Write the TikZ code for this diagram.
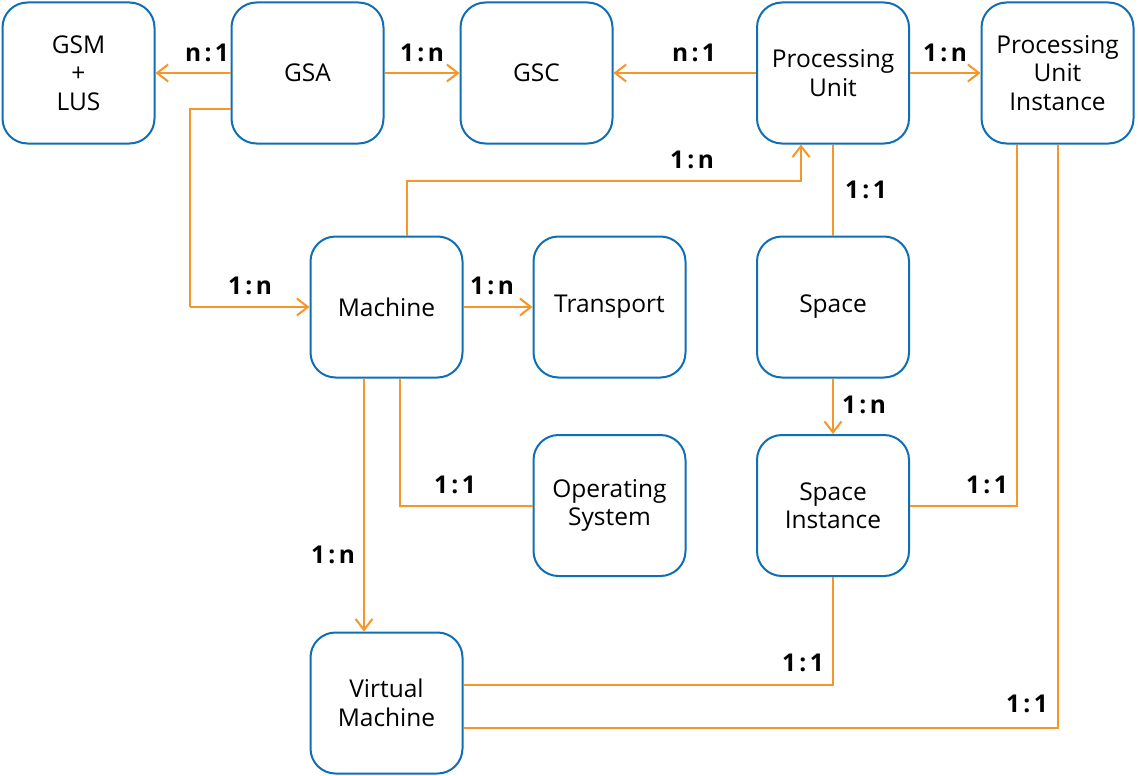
\documentclass[tikz,border=0pt]{standalone}
\usepackage{fontspec}
\setmainfont{Open Sans}
\usetikzlibrary{arrows.meta,calc}
\definecolor{boxblue}{RGB}{16,110,180}
\definecolor{linkorange}{RGB}{247,150,40}
\newcommand{\rel}[2]{#1\hspace{0.14em}:\hspace{0.14em}#2}
\begin{document}
\begin{tikzpicture}[x=1pt,y=-1pt,
  box/.style={draw=boxblue, line width=2pt, rounded corners=25pt, minimum width=152pt, minimum height=141pt, align=center, inner sep=0pt, font=\fontsize{24.5}{28.5}\selectfont},
  link/.style={draw=linkorange, line width=2pt},
  arr/.style={link, -{Straight Barb[length=11pt,width=17pt,line width=2pt]}},
  lbl/.style={font=\fontsize{24.5}{26}\selectfont\bfseries, inner sep=0pt}]
\useasboundingbox (0,0) rectangle (1138,776);
\fill[white] (0,0) rectangle (1138,776);
% nodes
\node[box] (gsm) at (78.5,73) {GSM\\+\\LUS};
\node[box] (gsa) at (307.5,73) {GSA};
\node[box] (gsc) at (536.5,73) {GSC};
\node[box] (pu) at (833,73) {Processing\\Unit};
\node[box] (pui) at (1057.5,73) {Processing\\Unit\\Instance};
\node[box] (machine) at (386.5,307) {Machine};
\node[box] (transport) at (609.5,307) {Transport};
\node[box] (space) at (833,307) {Space};
\node[box] (os) at (609.5,505.5) {Operating\\System};
\node[box] (spi) at (833,505.5) {Space\\Instance};
\node[box] (vm) at (386.5,703) {Virtual\\Machine};
% helper coordinates
\coordinate (b1) at (190,307);
\coordinate (b2) at (600,181);
% connectors
\draw[arr] (gsa.west) -- (gsm.east);
\draw[arr] (gsa.east) -- (gsc.west);
\draw[arr] (pu.west) -- (gsc.east);
\draw[arr] (pu.east) -- (pui.west);
\draw[link] ([yshift=-36pt]gsa.west) -| (b1);
\draw[arr] (b1) -- (machine.west);
\draw[arr] ([xshift=20pt]machine.north) |- (b2) -| ([xshift=-32pt]pu.south);
\draw[arr] (machine.east) -- (transport.west);
\draw[link] (pu.south) -- (space.north);
\draw[arr] (space.south) -- (spi.north);
\draw[link] ([xshift=13.5pt]machine.south) |- (os.west);
\draw[arr] ([xshift=-22.5pt]machine.south) -- ([xshift=-22.5pt]vm.north);
\draw[link] ([xshift=-40.5pt]pui.south) |- (spi.east);
\draw[link] (spi.south) |- ([yshift=18pt]vm.east);
\draw[link] (pui.south) |- ([yshift=-25pt]vm.east);
% labels
\node[lbl] (l1) at (207,53) {\rel{n}{1}};
\node[lbl] (l2) at (422,53) {\rel{1}{n}};
\node[lbl] (l3) at (694,53) {\rel{n}{1}};
\node[lbl] (l4) at (945,53) {\rel{1}{n}};
\node[lbl] (l5) at (250,286) {\rel{1}{n}};
\node[lbl] (l6) at (692,160) {\rel{1}{n}};
\node[lbl] (l7) at (492,286) {\rel{1}{n}};
\node[lbl] (l8) at (866,190) {\rel{1}{1}};
\node[lbl] (l9) at (864,405) {\rel{1}{n}};
\node[lbl] (l10) at (455,485) {\rel{1}{1}};
\node[lbl] (l11) at (333,555) {\rel{1}{n}};
\node[lbl] (l12) at (987,485) {\rel{1}{1}};
\node[lbl] (l13) at (803,663) {\rel{1}{1}};
\node[lbl] (l14) at (1027,704) {\rel{1}{1}};
\end{tikzpicture}
\end{document}
